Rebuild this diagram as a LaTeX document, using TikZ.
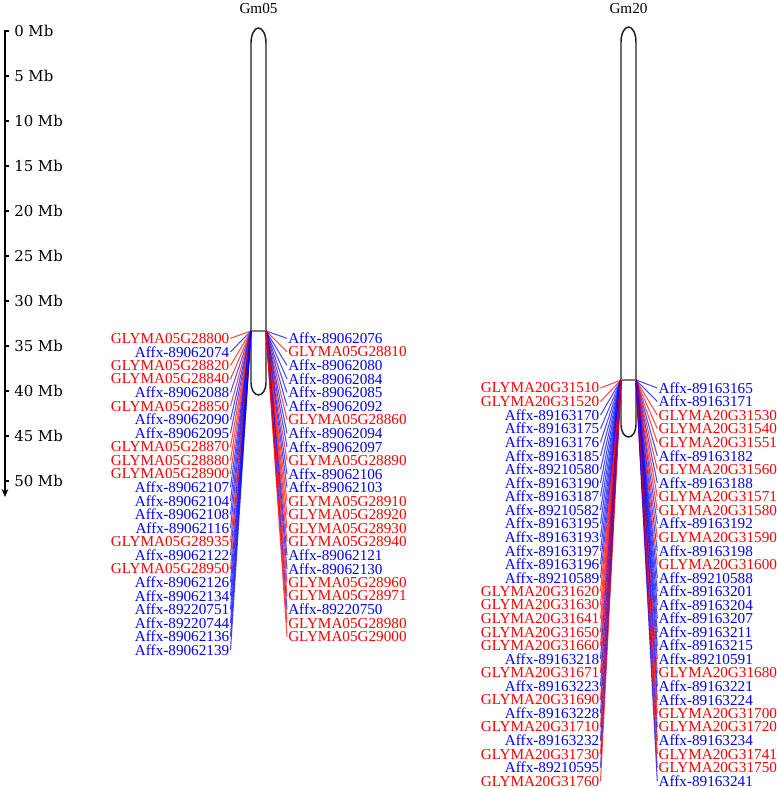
\documentclass[tikz,border=0pt]{standalone}
\usepackage{fontspec}
\setmainfont{Liberation Serif}
\newfontfamily\axisfont{DejaVu Serif}
\usetikzlibrary{arrows.meta}
\definecolor{genered}{RGB}{255,0,0}
\definecolor{snpblue}{RGB}{0,0,255}
\definecolor{chromline}{RGB}{30,30,30}
\definecolor{qtlgray}{RGB}{125,125,125}

\begin{document}
\begin{tikzpicture}[x=0.75pt,y=-0.75pt,
    lab/.style={font=\fontsize{11.4}{12}\selectfont,inner sep=0.75pt},
    link/.style={line width=0.8pt,opacity=0.7},
    chrom/.style={draw=chromline,line width=1.1pt},
    mb/.style={font=\axisfont\fontsize{11.2}{12}\selectfont,anchor=west,inner sep=0.75pt}]
  \useasboundingbox (0,0) rectangle (777,788);

  % scale bar
  \draw[line width=1.5pt,-{Stealth[length=6pt,width=5pt]}] (9,31) -- (5,31) -- (5,497);
  \foreach \m [count=\i] in {0,5,...,50}
  {
    \draw[line width=1.5pt] (5,31+9*\m) -- (9,31+9*\m);
    \node[mb] (mb\i) at (13,31+9*\m) {\m{} Mb};
  }

  % chromosomes
  \node[lab] (t05) at (258.5,9) {Gm05};
  \node[lab] (t20) at (628.5,9) {Gm20};
  \draw[chrom] (251,43) arc[start angle=180,end angle=360,x radius=7.5,y radius=15]
    -- (266,383) arc[start angle=0,end angle=180,x radius=7.5,y radius=12] -- cycle;
  \draw[chrom] (621,42) arc[start angle=180,end angle=360,x radius=7.5,y radius=15]
    -- (636,425) arc[start angle=0,end angle=180,x radius=7.5,y radius=12] -- cycle;
  \draw[qtlgray,line width=1.1pt] (251,331) -- (266,331);
  \draw[qtlgray,line width=1.1pt] (621,380) -- (636,380);
  \coordinate (gm05w) at (251,331);
  \coordinate (gm05e) at (266,331);
  \coordinate (gm20w) at (621,380);
  \coordinate (gm20e) at (636,380);

  % Gm05, left
  \foreach \t/\c [count=\i] in {
    GLYMA05G28800/genered, Affx-89062074/snpblue, GLYMA05G28820/genered,
    GLYMA05G28840/genered, Affx-89062088/snpblue, GLYMA05G28850/genered,
    Affx-89062090/snpblue, Affx-89062095/snpblue, GLYMA05G28870/genered,
    GLYMA05G28880/genered, GLYMA05G28900/genered, Affx-89062107/snpblue,
    Affx-89062104/snpblue, Affx-89062108/snpblue, Affx-89062116/snpblue,
    GLYMA05G28935/genered, Affx-89062122/snpblue, GLYMA05G28950/genered,
    Affx-89062126/snpblue, Affx-89062134/snpblue, Affx-89220751/snpblue,
    Affx-89220744/snpblue, Affx-89062136/snpblue, Affx-89062139/snpblue}
  {
    \node[lab,text=\c,anchor=east] (g05l\i) at (230.5,{338.3+(\i-1)*13.56}) {\t};
    \draw[link,draw=\c] (gm05w) -- (g05l\i.east);
  }

  % Gm05, right
  \foreach \t/\c [count=\i] in {
    Affx-89062076/snpblue, GLYMA05G28810/genered, Affx-89062080/snpblue,
    Affx-89062084/snpblue, Affx-89062085/snpblue, Affx-89062092/snpblue,
    GLYMA05G28860/genered, Affx-89062094/snpblue, Affx-89062097/snpblue,
    GLYMA05G28890/genered, Affx-89062106/snpblue, Affx-89062103/snpblue,
    GLYMA05G28910/genered, GLYMA05G28920/genered, GLYMA05G28930/genered,
    GLYMA05G28940/genered, Affx-89062121/snpblue, Affx-89062130/snpblue,
    GLYMA05G28960/genered, GLYMA05G28971/genered, Affx-89220750/snpblue,
    GLYMA05G28980/genered, GLYMA05G29000/genered}
  {
    \node[lab,text=\c,anchor=west] (g05r\i) at (287,{338.3+(\i-1)*13.56}) {\t};
    \draw[link,draw=\c] (gm05e) -- (g05r\i.west);
  }

  % Gm20, left
  \foreach \t/\c [count=\i] in {
    GLYMA20G31510/genered, GLYMA20G31520/genered, Affx-89163170/snpblue,
    Affx-89163175/snpblue, Affx-89163176/snpblue, Affx-89163185/snpblue,
    Affx-89210580/snpblue, Affx-89163190/snpblue, Affx-89163187/snpblue,
    Affx-89210582/snpblue, Affx-89163195/snpblue, Affx-89163193/snpblue,
    Affx-89163197/snpblue, Affx-89163196/snpblue, Affx-89210589/snpblue,
    GLYMA20G31620/genered, GLYMA20G31630/genered, GLYMA20G31641/genered,
    GLYMA20G31650/genered, GLYMA20G31660/genered, Affx-89163218/snpblue,
    GLYMA20G31671/genered, Affx-89163223/snpblue, GLYMA20G31690/genered,
    Affx-89163228/snpblue, GLYMA20G31710/genered, Affx-89163232/snpblue,
    GLYMA20G31730/genered, Affx-89210595/snpblue, GLYMA20G31760/genered}
  {
    \node[lab,text=\c,anchor=east] (g20l\i) at (600.5,{388+(\i-1)*13.56}) {\t};
    \draw[link,draw=\c] (gm20w) -- (g20l\i.east);
  }

  % Gm20, right
  \foreach \t/\c [count=\i] in {
    Affx-89163165/snpblue, Affx-89163171/snpblue, GLYMA20G31530/genered,
    GLYMA20G31540/genered, GLYMA20G31551/genered, Affx-89163182/snpblue,
    GLYMA20G31560/genered, Affx-89163188/snpblue, GLYMA20G31571/genered,
    GLYMA20G31580/genered, Affx-89163192/snpblue, GLYMA20G31590/genered,
    Affx-89163198/snpblue, GLYMA20G31600/genered, Affx-89210588/snpblue,
    Affx-89163201/snpblue, Affx-89163204/snpblue, Affx-89163207/snpblue,
    Affx-89163211/snpblue, Affx-89163215/snpblue, Affx-89210591/snpblue,
    GLYMA20G31680/genered, Affx-89163221/snpblue, Affx-89163224/snpblue,
    GLYMA20G31700/genered, GLYMA20G31720/genered, Affx-89163234/snpblue,
    GLYMA20G31741/genered, GLYMA20G31750/genered, Affx-89163241/snpblue}
  {
    \node[lab,text=\c,anchor=west] (g20r\i) at (657.3,{388+(\i-1)*13.56}) {\t};
    \draw[link,draw=\c] (gm20e) -- (g20r\i.west);
  }
\end{tikzpicture}
\end{document}
